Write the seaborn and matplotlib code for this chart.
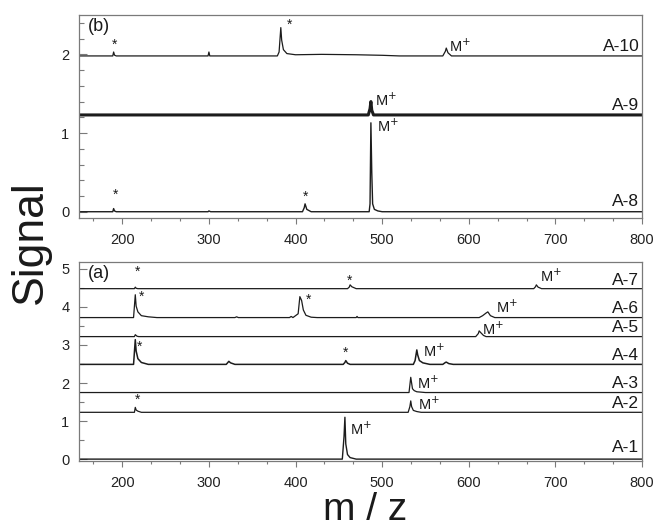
import numpy as np
import matplotlib
matplotlib.use("Agg")
import matplotlib.pyplot as plt
from matplotlib.ticker import MultipleLocator
import seaborn as sns

sns.set_theme(style="white")
plt.rcParams['font.family'] = ['Liberation Sans', 'DejaVu Sans']

# ---------------- data ----------------
# panel (b)
a10_mz = [150, 189, 190, 191, 193, 299, 300, 301, 379, 381, 383, 384, 386, 390, 400, 430, 470, 500, 520, 570, 573, 574, 576, 580, 800]
a10_int = [0, 0, 0.05, 0.01, 0, 0, 0.05, 0, 0, 0.05, 0.36, 0.2, 0.08, 0.03, 0.015, 0.02, 0.015, 0.008, 0, 0, 0.06, 0.1, 0.04, 0, 0]
a10_base = 1.98

a9_mz = [150, 484, 486, 487, 488, 490, 800]
a9_int = [0, 0, 0.08, 0.17, 0.06, 0, 0]
a9_base = 1.23

a8_mz = [150, 189, 190, 191, 193, 299, 300, 302, 408, 410, 411, 413, 418, 485, 486, 487, 488, 489, 491, 495, 500, 800]
a8_int = [0, 0, 0.04, 0.01, 0, 0, 0.01, 0, 0, 0.05, 0.1, 0.03, 0, 0, 0.1, 1.13, 0.5, 0.1, 0.03, 0.01, 0, 0]
a8_base = 0.0

# panel (a)
a7_mz = [150, 214, 215, 216, 218, 460, 462, 463, 465, 470, 675, 677, 678, 680, 684, 800]
a7_int = [0, 0, 0.04, 0.01, 0, 0, 0.04, 0.1, 0.05, 0, 0, 0.05, 0.1, 0.04, 0, 0]
a7_base = 4.48

a6_mz = [150, 213, 215, 216, 218, 222, 230, 240, 330, 332, 334, 393, 395, 397,
         403, 405, 407, 409, 412, 418, 425, 470, 471, 472, 612, 616, 620, 622, 625, 630, 800]
a6_int = [0, 0, 0.6, 0.3, 0.15, 0.05, 0.02, 0, 0, 0.02, 0, 0, 0.03, 0,
          0.1, 0.55, 0.45, 0.2, 0.06, 0.01, 0, 0, 0.03, 0, 0, 0.05, 0.12, 0.15, 0.05, 0, 0]
a6_base = 3.72

a5_mz = [150, 214, 215, 217, 219, 608, 611, 612, 614, 617, 620, 800]
a5_int = [0, 0, 0.05, 0.01, 0, 0, 0.08, 0.15, 0.1, 0.03, 0, 0]
a5_base = 3.22

a4_mz = [150, 213, 215, 216, 218, 222, 230, 320, 323, 325, 330, 455, 457, 458, 460, 463,
         536, 538, 540, 541, 543, 547, 555, 570, 573, 574, 577, 582, 800]
a4_int = [0, 0, 0.65, 0.35, 0.15, 0.05, 0, 0, 0.08, 0.04, 0, 0, 0.05, 0.1, 0.03, 0,
          0, 0.1, 0.38, 0.25, 0.1, 0.04, 0, 0, 0.05, 0.06, 0.02, 0, 0]
a4_base = 2.49

a3_mz = [150, 531, 533, 534, 535, 537, 540, 545, 550, 800]
a3_int = [0, 0, 0.4, 0.25, 0.1, 0.05, 0.02, 0.01, 0, 0]
a3_base = 1.75

a2_mz = [150, 214, 215, 216, 218, 222, 530, 532, 533, 534, 536, 540, 545, 800]
a2_int = [0, 0, 0.13, 0.06, 0.03, 0, 0, 0.15, 0.3, 0.15, 0.05, 0.02, 0, 0]
a2_base = 1.23

a1_mz = [150, 454, 456, 457, 458, 460, 463, 470, 800]
a1_int = [0, 0, 0.6, 1.1, 0.4, 0.12, 0.04, 0, 0]
a1_base = 0.0

top_names = ["A-10", "A-9", "A-8"]
bot_names = ["A-7", "A-6", "A-5", "A-4", "A-3", "A-2", "A-1"]

# annotations: (x, y)
top_stars = [(191, 2.12), (393, 2.37), (192, 0.21), (411, 0.19)]
top_mplus = [(577, 2.1), (492, 1.42), (494, 1.08)]
bot_stars = [(217, 4.92), (462, 4.69), (222, 4.27), (415, 4.2), (220, 2.96), (458, 2.8), (217, 1.55)]
bot_mplus = [(631, 4.0), (615, 3.4), (547, 2.83), (540, 2.0), (541, 1.44), (463, 0.79), (682, 4.8)]

# ---------------- figure ----------------
fig = plt.figure(figsize=(6.56, 5.27), dpi=100)
ax_b = fig.add_axes([0.1204, 0.5863, 0.8583, 0.3852])
ax_a = fig.add_axes([0.1204, 0.1252, 0.8583, 0.3776])

line_c = "#1c1c1c"
spine_c = "#7a7a7a"

def draw(ax, mz, inten, base, lw=0.9):
    sns.lineplot(x=mz, y=np.add(inten, base), ax=ax, color=line_c, lw=lw,
                 sort=False, estimator=None)

draw(ax_b, a10_mz, a10_int, a10_base)
draw(ax_b, a9_mz, a9_int, a9_base, lw=2.2)
draw(ax_b, a8_mz, a8_int, a8_base, lw=1.0)

draw(ax_a, a7_mz, a7_int, a7_base)
draw(ax_a, a6_mz, a6_int, a6_base)
draw(ax_a, a5_mz, a5_int, a5_base)
draw(ax_a, a4_mz, a4_int, a4_base, lw=1.1)
draw(ax_a, a3_mz, a3_int, a3_base)
draw(ax_a, a2_mz, a2_int, a2_base)
draw(ax_a, a1_mz, a1_int, a1_base, lw=1.0)

ax_b.set_xlim(150, 800)
ax_b.set_ylim(-0.08, 2.5)
ax_a.set_xlim(150, 800)
ax_a.set_ylim(-0.05, 5.18)

for ax in (ax_a, ax_b):
    ax.xaxis.set_major_locator(MultipleLocator(100))
    ax.xaxis.set_minor_locator(MultipleLocator(100 / 3))
    for s in ax.spines.values():
        s.set_color(spine_c)
        s.set_linewidth(0.9)
    ax.tick_params(axis='x', which='major', direction='out', length=4.5, width=0.8,
                   color=spine_c, labelsize=10.5, labelcolor="#222222", bottom=True, top=False, pad=6)
    ax.tick_params(axis='x', which='minor', direction='out', length=2.5, width=0.8,
                   color=spine_c, bottom=True, top=False)
    ax.tick_params(axis='y', which='major', direction='in', length=6, width=0.8,
                   color=spine_c, labelsize=10.5, labelcolor="#222222", left=True, right=False, pad=7)
    ax.tick_params(axis='y', which='minor', direction='in', length=3.5, width=0.8,
                   color=spine_c, left=True, right=False)
    ax.set_xlabel("")
    ax.set_ylabel("")

ax_b.yaxis.set_major_locator(MultipleLocator(1))
ax_b.yaxis.set_minor_locator(MultipleLocator(0.2))
ax_a.yaxis.set_major_locator(MultipleLocator(1))
ax_a.yaxis.set_minor_locator(MultipleLocator(0.5))

for name, base in zip(top_names, [a10_base, a9_base, a8_base]):
    ax_b.text(797, base + 0.03, name, ha='right', va='bottom', fontsize=12.5, color="#1a1a1a")
for name, base in zip(bot_names, [a7_base, a6_base, a5_base, a4_base, a3_base, a2_base, a1_base]):
    off = 0.1 if name == "A-1" else 0.03
    ax_a.text(797, base + off, name, ha='right', va='bottom', fontsize=12.5, color="#1a1a1a")

for (x, y) in top_stars:
    ax_b.text(x, y, "*", ha='center', va='center', fontsize=10, color="#1a1a1a")
for (x, y) in bot_stars:
    ax_a.text(x, y, "*", ha='center', va='center', fontsize=10, color="#1a1a1a")
for (x, y) in top_mplus:
    ax_b.text(x, y, r"M$^{+}$", ha='left', va='center', fontsize=10.5, color="#1a1a1a")
for (x, y) in bot_mplus:
    ax_a.text(x, y, r"M$^{+}$", ha='left', va='center', fontsize=10.5, color="#1a1a1a")

ax_b.text(0.015, 0.985, "(b)", transform=ax_b.transAxes, ha='left', va='top', fontsize=13, color="#1a1a1a")
ax_a.text(0.015, 0.985, "(a)", transform=ax_a.transAxes, ha='left', va='top', fontsize=13, color="#1a1a1a")

fig.text(0.046, 0.54, "Signal", rotation=90, ha='center', va='center', fontsize=32, color="#1a1a1a")
fig.text(0.556, 0.014, "m / z", ha='center', va='baseline', fontsize=28, color="#1a1a1a")

fig.savefig("out.png", dpi=100)
